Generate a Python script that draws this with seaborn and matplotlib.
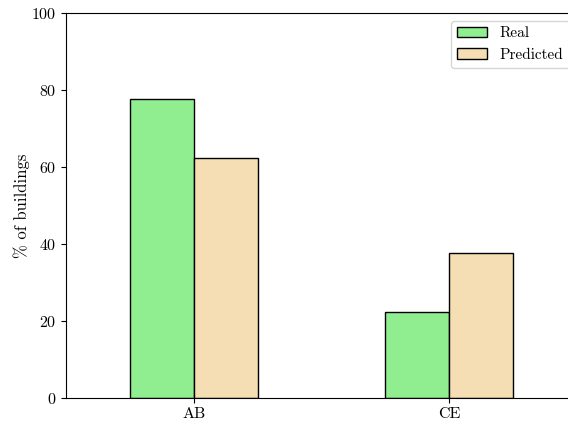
import matplotlib
matplotlib.use("Agg")
import matplotlib.pyplot as plt
import seaborn as sns
import pandas as pd

# Share of buildings per class, real vs predicted
categories = ["AB", "CE"]
real = [77.6, 22.4]
predicted = [62.3, 37.7]
series_names = ["Real", "Predicted"]
yticks = [0, 20, 40, 60, 80, 100]

df = pd.DataFrame({
    "cls": categories * 2,
    "value": real + predicted,
    "series": [series_names[0]] * len(categories) + [series_names[1]] * len(categories),
})

sns.set_style("ticks")
plt.rcParams["font.family"] = "serif"
plt.rcParams["font.serif"] = ["cmr10", "DejaVu Serif"]
plt.rcParams["mathtext.fontset"] = "cm"
plt.rcParams["axes.unicode_minus"] = False
plt.rcParams["axes.formatter.use_mathtext"] = True
for key in ["text.color", "axes.labelcolor", "xtick.color", "ytick.color", "axes.edgecolor"]:
    plt.rcParams[key] = "black"

fig = plt.figure(figsize=(5.68, 4.24), dpi=100)
ax = fig.add_axes([0.1162, 0.0613, 0.8996, 0.908])

sns.barplot(data=df, x="cls", y="value", hue="series",
            palette=["lightgreen", "wheat"], saturation=1, width=0.5,
            edgecolor="black", linewidth=1.0, ax=ax)

ax.set_xlim(-0.5, 1.5)
ax.set_ylim(0, 100)
ax.set_yticks(yticks)
ax.set_xlabel("")
ax.set_ylabel("% of buildings", fontsize=12, labelpad=1)
ax.tick_params(labelsize=11.5, colors="black")
for s in ax.spines.values():
    s.set_visible(True)
    s.set_color("black")
    s.set_linewidth(0.8)

ax.legend(title=None, loc="upper right", fontsize=11, frameon=True)

fig.savefig("out.png", dpi=100)
